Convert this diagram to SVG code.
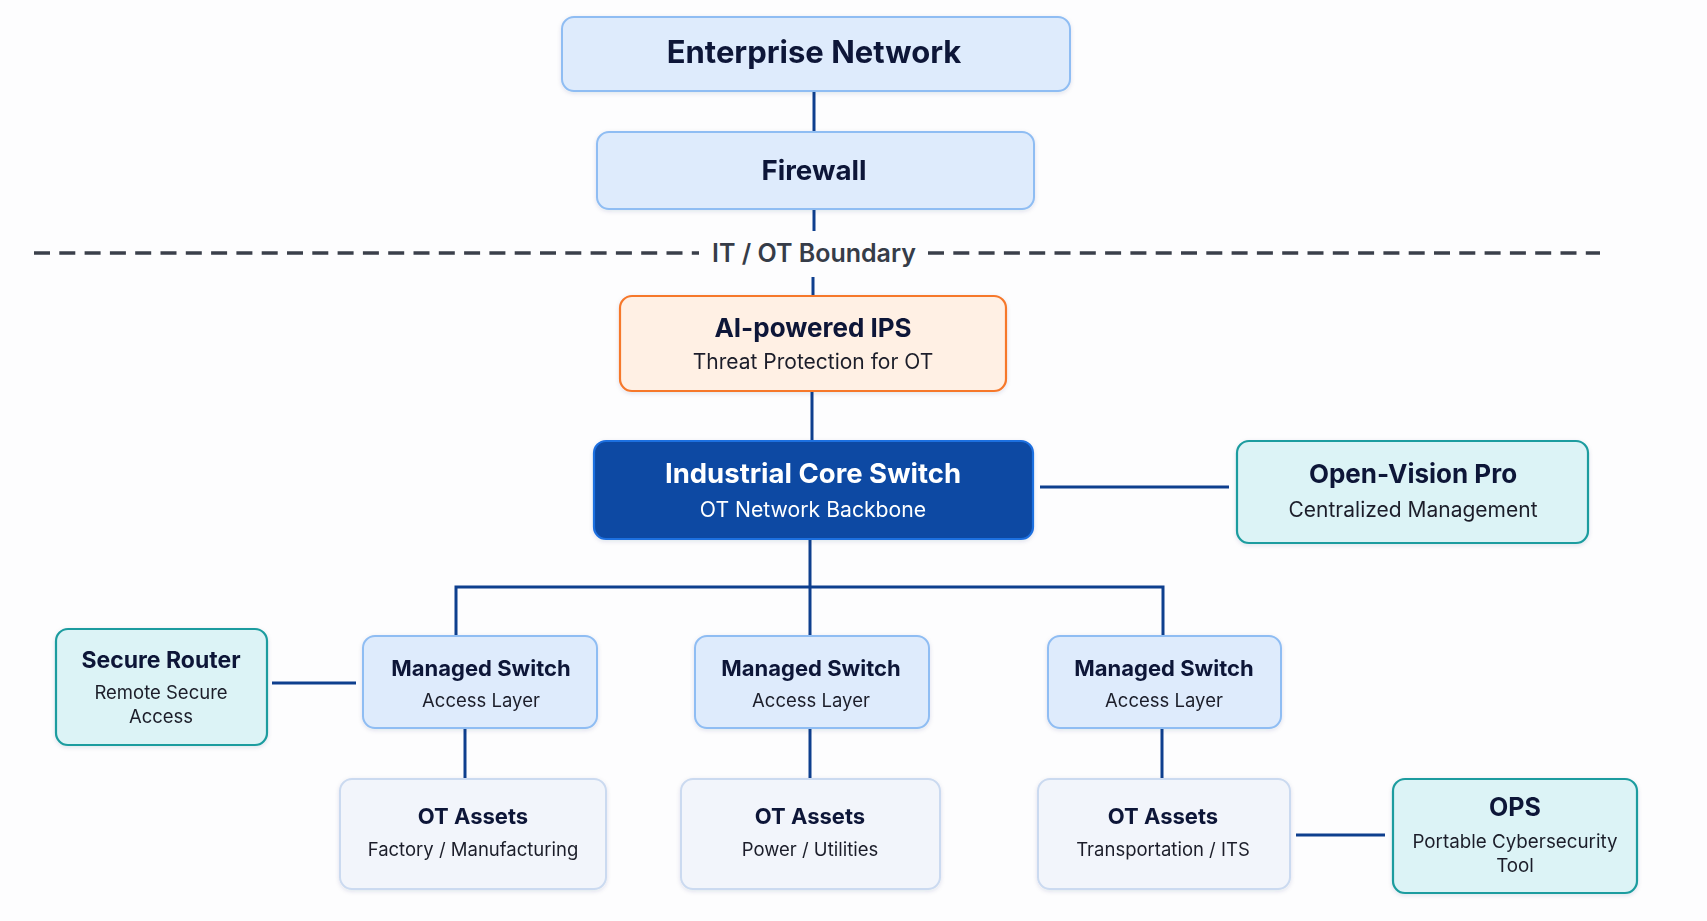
<svg xmlns="http://www.w3.org/2000/svg" width="1707" height="921" viewBox="0 0 1707 921">
<defs>
<style>
.bg{fill:#fdfdfe}
.blue{fill:#deebfc;stroke:#8fbdf3;stroke-width:2}
.ips{fill:#fff0e4;stroke:#f6782a;stroke-width:2.2}
.core{fill:#0a4aa3;stroke:#1f6fe0;stroke-width:2.2}
.teal{fill:#dcf3f6;stroke:#1b9c9f;stroke-width:2.2}
.asset{fill:#f2f5fb;stroke:#cbdaf0;stroke-width:2}
.t{font-family:Inter,"Liberation Sans",sans-serif;text-anchor:middle}
.h{font-weight:700;fill:#0f1738}
.s{font-weight:400;fill:#1c1f2a}
.w{fill:#ffffff}
.con{stroke:#0e3f8e;stroke-width:3;fill:none}
.dash{stroke:#3a3f4a;stroke-width:3.3;stroke-dasharray:16 9.3;fill:none}
</style>
<filter id="sh" x="-10%" y="-10%" width="120%" height="130%">
<feDropShadow dx="0" dy="1.5" stdDeviation="2" flood-color="#1b3a6b" flood-opacity="0.12"/>
</filter>
</defs>
<rect class="bg" x="0" y="0" width="1707" height="921"/>

<g id="connectors">
<line class="con" x1="814" y1="92" x2="814" y2="132"/>
<line class="con" x1="814" y1="210" x2="814" y2="231"/>
<line class="con" x1="813" y1="277" x2="813" y2="296"/>
<line class="con" x1="812" y1="392" x2="812" y2="441"/>
<line class="con" x1="1040" y1="487" x2="1229" y2="487"/>
<polyline class="con" points="456,635 456,587 1163,587 1163,635"/>
<line class="con" x1="810" y1="540" x2="810" y2="635"/>
<line class="con" x1="272" y1="683" x2="356" y2="683"/>
<line class="con" x1="465" y1="729" x2="465" y2="778"/>
<line class="con" x1="810" y1="729" x2="810" y2="778"/>
<line class="con" x1="1162" y1="729" x2="1162" y2="778"/>
<line class="con" x1="1296" y1="835" x2="1385" y2="835"/>
</g>

<g id="boundary">
<line class="dash" x1="34" y1="253" x2="699" y2="253"/>
<line class="dash" x1="928" y1="253" x2="1600" y2="253"/>
<text class="t" x="814" y="262" font-size="25" font-weight="600" fill="#363c48">IT / OT Boundary</text>
</g>

<g id="enterprise" filter="url(#sh)">
<rect class="blue" x="562" y="17" width="508" height="74" rx="12"/>
<text class="t h" x="814" y="63" font-size="31">Enterprise Network</text>
</g>

<g id="firewall" filter="url(#sh)">
<rect class="blue" x="597" y="132" width="437" height="77" rx="12"/>
<text class="t h" x="814" y="180" font-size="27.7">Firewall</text>
</g>

<g id="ips" filter="url(#sh)">
<rect class="ips" x="620" y="296" width="386" height="95" rx="12"/>
<text class="t h" x="813" y="337" font-size="26">AI-powered IPS</text>
<text class="t s" x="813" y="369" font-size="21">Threat Protection for OT</text>
</g>

<g id="core" filter="url(#sh)">
<rect class="core" x="594" y="441" width="439" height="98" rx="12"/>
<text class="t w" x="813" y="483" font-size="27.5" font-weight="700">Industrial Core Switch</text>
<text class="t w" x="813" y="517" font-size="21.2">OT Network Backbone</text>
</g>

<g id="openvision" filter="url(#sh)">
<rect class="teal" x="1237" y="441" width="351" height="102" rx="12"/>
<text class="t h" x="1413" y="483" font-size="26">Open-Vision Pro</text>
<text class="t s" x="1413" y="517" font-size="21">Centralized Management</text>
</g>

<g id="router" filter="url(#sh)">
<rect class="teal" x="56" y="629" width="211" height="116" rx="12"/>
<text class="t h" x="161" y="668" font-size="23">Secure Router</text>
<text class="t s" x="161" y="699" font-size="18.5">Remote Secure</text>
<text class="t s" x="161" y="723" font-size="18.5">Access</text>
</g>

<g id="switch1" filter="url(#sh)">
<rect class="blue" x="363" y="636" width="234" height="92" rx="12"/>
<text class="t h" x="481" y="676" font-size="22">Managed Switch</text>
<text class="t s" x="481" y="707" font-size="18.5">Access Layer</text>
</g>

<g id="switch2" filter="url(#sh)">
<rect class="blue" x="695" y="636" width="234" height="92" rx="12"/>
<text class="t h" x="811" y="676" font-size="22">Managed Switch</text>
<text class="t s" x="811" y="707" font-size="18.5">Access Layer</text>
</g>

<g id="switch3" filter="url(#sh)">
<rect class="blue" x="1048" y="636" width="233" height="92" rx="12"/>
<text class="t h" x="1164" y="676" font-size="22">Managed Switch</text>
<text class="t s" x="1164" y="707" font-size="18.5">Access Layer</text>
</g>

<g id="assets1" filter="url(#sh)">
<rect class="asset" x="340" y="779" width="266" height="110" rx="12"/>
<text class="t h" x="473" y="824" font-size="22">OT Assets</text>
<text class="t s" x="473" y="856" font-size="18.5">Factory / Manufacturing</text>
</g>

<g id="assets2" filter="url(#sh)">
<rect class="asset" x="681" y="779" width="259" height="110" rx="12"/>
<text class="t h" x="810" y="824" font-size="22">OT Assets</text>
<text class="t s" x="810" y="856" font-size="18.5">Power / Utilities</text>
</g>

<g id="assets3" filter="url(#sh)">
<rect class="asset" x="1038" y="779" width="252" height="110" rx="12"/>
<text class="t h" x="1163" y="824" font-size="22">OT Assets</text>
<text class="t s" x="1163" y="856" font-size="18.5">Transportation / ITS</text>
</g>

<g id="ops" filter="url(#sh)">
<rect class="teal" x="1393" y="779" width="244" height="114" rx="12"/>
<text class="t h" x="1515" y="816" font-size="25">OPS</text>
<text class="t s" x="1515" y="848" font-size="18.8">Portable Cybersecurity</text>
<text class="t s" x="1515" y="872" font-size="18.8">Tool</text>
</g>
</svg>
